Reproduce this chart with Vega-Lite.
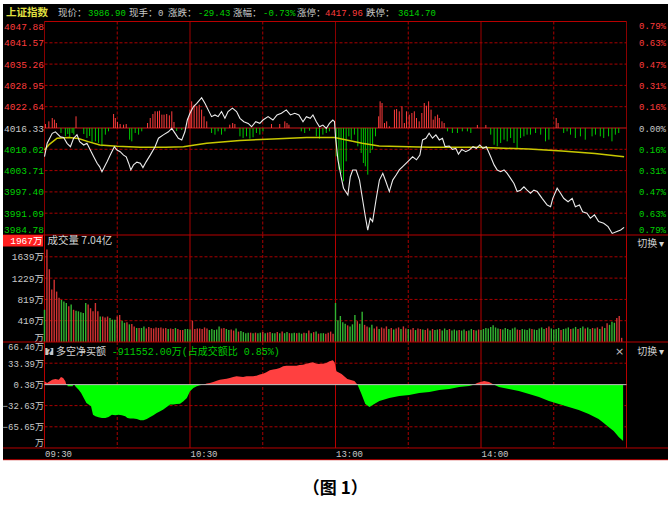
{
"$schema": "https://vega.github.io/schema/vega-lite/v6.json",
"background": "white",
"padding": {"left": 2, "top": 4, "right": 2, "bottom": 0},
"spacing": 0,
"bounds": "flush",
"resolve": {"scale": {"color": "independent"}},
"title": {"text": "（图 1）", "orient": "bottom", "anchor": "middle", "offset": 21, "fontSize": 17, "font": "Noto Sans CJK SC", "fontWeight": "bold", "color": "#000000"},
"config": {"view": {"fill": "#000000", "stroke": null}, "axis": {"labelColor": "#c8c8c8", "labelFont": "Liberation Mono, Noto Sans CJK SC", "labelFontSize": 9.5}},
"datasets": {
"priceLine": [{"t":0,"p":4007.83},{"t":1.1,"p":4011.8},{"t":3.2,"p":4014.76},{"t":4.5,"p":4015.2},{"t":6.6,"p":4013.7},{"t":7.9,"p":4013.5},{"t":9.3,"p":4011.8},{"t":10.7,"p":4010.8},{"t":12,"p":4013.3},{"t":13.4,"p":4014.3},{"t":14.5,"p":4012.3},{"t":16.2,"p":4011.3},{"t":17.5,"p":4011.8},{"t":18.9,"p":4009.8},{"t":20.3,"p":4007.8},{"t":21.7,"p":4005.9},{"t":22.7,"p":4004.9},{"t":23.7,"p":4003.4},{"t":25.1,"p":4005.4},{"t":25.8,"p":4006.3},{"t":27.1,"p":4008.3},{"t":28.8,"p":4010.8},{"t":29.9,"p":4009.8},{"t":31.2,"p":4009.3},{"t":32.6,"p":4008.3},{"t":33.7,"p":4007.8},{"t":34.7,"p":4005.9},{"t":35.6,"p":4003.9},{"t":36.7,"p":4005.4},{"t":38.1,"p":4006.2},{"t":39.5,"p":4005.9},{"t":40.6,"p":4004.6},{"t":41.9,"p":4006.3},{"t":43.6,"p":4008.3},{"t":45.6,"p":4010.8},{"t":47,"p":4013.3},{"t":49,"p":4014.3},{"t":51.1,"p":4015.2},{"t":52.5,"p":4016.2},{"t":53.8,"p":4014.8},{"t":55.2,"p":4013.3},{"t":56.6,"p":4012.8},{"t":57.9,"p":4015.2},{"t":58.9,"p":4018.7},{"t":60,"p":4020.7},{"t":61.4,"p":4022.6},{"t":62.8,"p":4023.6},{"t":64.8,"p":4025.3},{"t":66.2,"p":4023.6},{"t":67.5,"p":4021.7},{"t":68.9,"p":4019.7},{"t":70.3,"p":4020.2},{"t":71.6,"p":4019.7},{"t":73,"p":4021.2},{"t":74.4,"p":4019.2},{"t":75.7,"p":4021.2},{"t":77.5,"p":4022.2},{"t":79.2,"p":4021.2},{"t":80.6,"p":4019.2},{"t":82.2,"p":4018.2},{"t":84,"p":4017.7},{"t":85.4,"p":4016.7},{"t":87.1,"p":4018.2},{"t":88.8,"p":4017.7},{"t":90.1,"p":4018.7},{"t":92.2,"p":4019.7},{"t":94.2,"p":4018.7},{"t":95.9,"p":4020.2},{"t":97.7,"p":4020.7},{"t":99.7,"p":4021.7},{"t":101.4,"p":4020.2},{"t":103.2,"p":4020.7},{"t":104.9,"p":4020.2},{"t":106.6,"p":4018.2},{"t":108,"p":4019.7},{"t":109.6,"p":4019.2},{"t":110.7,"p":4020.2},{"t":112.1,"p":4018.2},{"t":113.4,"p":4016.7},{"t":114.8,"p":4017.2},{"t":116.2,"p":4016.2},{"t":117.5,"p":4017.7},{"t":118.9,"p":4018.7},{"t":119.6,"p":4018.2},{"t":120,"p":4013.7},{"t":121,"p":4006.9},{"t":122.3,"p":4001.9},{"t":123.3,"p":3998.5},{"t":125.1,"p":3996.5},{"t":126.1,"p":4001.9},{"t":127.1,"p":4003.9},{"t":128.5,"p":4003.9},{"t":129.9,"p":4000.9},{"t":131.2,"p":3995.0},{"t":132.3,"p":3990.1},{"t":133.3,"p":3986.1},{"t":134.3,"p":3989.6},{"t":135.3,"p":3988.6},{"t":136.7,"p":3995.0},{"t":138.1,"p":4000.9},{"t":139.5,"p":4002.9},{"t":140.8,"p":4000.4},{"t":142.2,"p":3997.5},{"t":143.6,"p":4000.9},{"t":145,"p":4002.4},{"t":146.3,"p":4003.9},{"t":147.7,"p":4004.9},{"t":149.7,"p":4006.3},{"t":151.8,"p":4007.8},{"t":153.4,"p":4006.9},{"t":154.8,"p":4008.3},{"t":155.9,"p":4012.8},{"t":157.3,"p":4013.3},{"t":158.6,"p":4014.8},{"t":160,"p":4013.3},{"t":161.4,"p":4014.3},{"t":162.8,"p":4012.8},{"t":164.1,"p":4013.3},{"t":165.2,"p":4010.8},{"t":166.9,"p":4011.0},{"t":168.2,"p":4010.0},{"t":169.6,"p":4010.3},{"t":170.7,"p":4008.6},{"t":172.1,"p":4010.0},{"t":173.7,"p":4009.3},{"t":175.1,"p":4009.8},{"t":176.7,"p":4010.8},{"t":178.1,"p":4010.3},{"t":179.5,"p":4011.3},{"t":180.8,"p":4010.3},{"t":182.2,"p":4010.8},{"t":184,"p":4007.8},{"t":185.4,"p":4005.4},{"t":186.7,"p":4003.9},{"t":188.1,"p":4003.4},{"t":189.5,"p":4003.9},{"t":190.8,"p":4002.9},{"t":192.2,"p":4001.4},{"t":193.6,"p":3999.9},{"t":194.9,"p":3997.5},{"t":196.3,"p":3997.9},{"t":197.7,"p":3998.9},{"t":199,"p":3997.9},{"t":200.4,"p":3997.0},{"t":201.8,"p":3997.9},{"t":203.2,"p":3997.5},{"t":205.2,"p":3995.5},{"t":207.3,"p":3993.5},{"t":208.7,"p":3993.0},{"t":209.6,"p":3995.5},{"t":211.4,"p":3998.5},{"t":212.8,"p":3997.0},{"t":214.1,"p":3995.5},{"t":215.9,"p":3994.5},{"t":217.6,"p":3995.5},{"t":218.9,"p":3993.0},{"t":220.6,"p":3993.5},{"t":221.9,"p":3991.5},{"t":223.7,"p":3991.1},{"t":225.1,"p":3989.6},{"t":226.8,"p":3990.6},{"t":228.5,"p":3988.6},{"t":230.6,"p":3988.1},{"t":232.4,"p":3987.1},{"t":234.1,"p":3985.1},{"t":235.8,"p":3985.6},{"t":237.6,"p":3986.1},{"t":239,"p":3986.9}],
"avgLine": [{"t":0,"a":4009.8},{"t":2,"a":4011.5},{"t":5.2,"a":4013.3},{"t":10,"a":4013.5},{"t":14,"a":4013.2},{"t":18,"a":4012.3},{"t":22.8,"a":4011.3},{"t":30,"a":4010.9},{"t":39.5,"a":4010.6},{"t":50,"a":4010.6},{"t":57.3,"a":4010.8},{"t":62,"a":4011.3},{"t":66.9,"a":4011.8},{"t":80.6,"a":4012.6},{"t":94.2,"a":4013.1},{"t":108,"a":4013.5},{"t":119.6,"a":4013.5},{"t":131,"a":4011.8},{"t":138,"a":4011.0},{"t":158.6,"a":4010.6},{"t":179,"a":4010.6},{"t":199.7,"a":4010.1},{"t":213.4,"a":4009.5},{"t":227,"a":4008.8},{"t":239,"a":4007.8}],
"bars": [{"t":0.4,"p":4017.51},{"t":1.8,"p":4018.3},{"t":3.2,"p":4019.29},{"t":4.1,"p":4018.8},{"t":4.9,"p":4017.81},{"t":6.8,"p":4014.85},{"t":8.6,"p":4013.86},{"t":9.6,"p":4014.55},{"t":10.4,"p":4013.37},{"t":11.4,"p":4014.85},{"t":12.1,"p":4014.36},{"t":13,"p":4019.79},{"t":16.2,"p":4014.55},{"t":17.5,"p":4013.37},{"t":18.6,"p":4013.96},{"t":19.6,"p":4011.89},{"t":21,"p":4012.38},{"t":22.3,"p":4011.89},{"t":23.7,"p":4010.9},{"t":25.1,"p":4014.36},{"t":26.4,"p":4015.34},{"t":28.5,"p":4020.48},{"t":29.2,"p":4019.29},{"t":30.1,"p":4018.11},{"t":31.2,"p":4017.51},{"t":32.6,"p":4017.32},{"t":33.7,"p":4017.51},{"t":35.1,"p":4012.87},{"t":36,"p":4012.38},{"t":37.4,"p":4014.85},{"t":38.8,"p":4014.36},{"t":40.1,"p":4015.34},{"t":42.5,"p":4017.81},{"t":43.6,"p":4019.29},{"t":44.7,"p":4020.48},{"t":45.6,"p":4021.27},{"t":46.6,"p":4021.27},{"t":47.4,"p":4021.46},{"t":48.4,"p":4020.28},{"t":49.3,"p":4020.28},{"t":50.4,"p":4020.48},{"t":51.5,"p":4020.08},{"t":52.5,"p":4021.27},{"t":53.4,"p":4018.11},{"t":54.5,"p":4015.43},{"t":56.6,"p":4015.73},{"t":59.3,"p":4019.29},{"t":60,"p":4021.76},{"t":60.7,"p":4024.23},{"t":61.7,"p":4023.24},{"t":62.8,"p":4022.75},{"t":63.8,"p":4023.24},{"t":64.8,"p":4021.76},{"t":65.8,"p":4019.79},{"t":66.9,"p":4018.3},{"t":68.9,"p":4014.85},{"t":70.3,"p":4014.36},{"t":71.6,"p":4015.34},{"t":73,"p":4014.36},{"t":74.4,"p":4015.34},{"t":76.4,"p":4017.32},{"t":77.6,"p":4017.81},{"t":78.5,"p":4017.51},{"t":80.6,"p":4013.86},{"t":81.9,"p":4013.37},{"t":83.3,"p":4013.86},{"t":84.7,"p":4013.17},{"t":86,"p":4013.57},{"t":87.4,"p":4014.85},{"t":88.8,"p":4014.36},{"t":90.1,"p":4015.34},{"t":93.6,"p":4017.51},{"t":97,"p":4017.51},{"t":99.1,"p":4018.3},{"t":100,"p":4017.81},{"t":100.8,"p":4017.32},{"t":105.9,"p":4015.34},{"t":107.3,"p":4014.85},{"t":109.3,"p":4015.53},{"t":112.1,"p":4013.86},{"t":113.4,"p":4013.17},{"t":114.8,"p":4014.36},{"t":116.2,"p":4014.85},{"t":117.5,"p":4015.34},{"t":120.3,"p":4007.94},{"t":121.4,"p":4003.99},{"t":122.3,"p":4003.0},{"t":123.3,"p":4000.53},{"t":124.4,"p":4006.46},{"t":125.5,"p":4013.86},{"t":126.5,"p":4012.87},{"t":127.8,"p":4014.36},{"t":129.2,"p":4010.9},{"t":130.6,"p":4008.93},{"t":131.5,"p":4005.96},{"t":132.3,"p":4004.98},{"t":133.3,"p":4002.51},{"t":134.3,"p":4008.93},{"t":135.3,"p":4009.91},{"t":136.5,"p":4013.86},{"t":137.8,"p":4019.79},{"t":138.4,"p":4024.23},{"t":139.2,"p":4023.73},{"t":140.2,"p":4017.81},{"t":141.1,"p":4018.3},{"t":142.2,"p":4016.83},{"t":144.3,"p":4021.76},{"t":145.2,"p":4021.96},{"t":146.3,"p":4021.27},{"t":147.4,"p":4022.75},{"t":148.4,"p":4017.81},{"t":149.3,"p":4021.27},{"t":150.4,"p":4020.28},{"t":151.5,"p":4020.77},{"t":152.5,"p":4021.27},{"t":153.4,"p":4019.29},{"t":154.5,"p":4018.3},{"t":155.6,"p":4020.77},{"t":156.6,"p":4023.73},{"t":157.5,"p":4022.94},{"t":158.4,"p":4024.23},{"t":159.4,"p":4021.76},{"t":160.3,"p":4018.8},{"t":161.1,"p":4019.79},{"t":162.1,"p":4020.28},{"t":162.8,"p":4019.29},{"t":163.9,"p":4018.3},{"t":164.8,"p":4017.81},{"t":166.2,"p":4015.34},{"t":168.2,"p":4014.85},{"t":170.3,"p":4014.85},{"t":172.3,"p":4015.34},{"t":174.4,"p":4015.34},{"t":175.8,"p":4014.85},{"t":178.5,"p":4017.23},{"t":182,"p":4017.23},{"t":184,"p":4014.36},{"t":185.4,"p":4011.39},{"t":186.7,"p":4010.9},{"t":188.1,"p":4011.89},{"t":189.5,"p":4012.87},{"t":190.8,"p":4012.38},{"t":192.2,"p":4013.37},{"t":193.6,"p":4011.89},{"t":194.9,"p":4010.41},{"t":196.3,"p":4013.37},{"t":197.7,"p":4013.86},{"t":199,"p":4014.36},{"t":200.4,"p":4014.36},{"t":202.5,"p":4014.85},{"t":204.6,"p":4014.36},{"t":206.6,"p":4012.38},{"t":208,"p":4012.87},{"t":211,"p":4019.29},{"t":211.8,"p":4017.81},{"t":214.1,"p":4014.85},{"t":215.5,"p":4015.34},{"t":216.9,"p":4014.36},{"t":218.9,"p":4013.37},{"t":221,"p":4013.86},{"t":223,"p":4012.87},{"t":225.8,"p":4013.86},{"t":227.2,"p":4014.36},{"t":229.2,"p":4013.86},{"t":230.6,"p":4013.37},{"t":232.6,"p":4013.86},{"t":234,"p":4012.38},{"t":235.4,"p":4014.36},{"t":236.8,"p":4014.85}],
"vol": [{"t":0,"v":620,"d":"down"},{"t":1,"v":1780,"d":"up"},{"t":2,"v":1400,"d":"up"},{"t":3,"v":1010,"d":"up"},{"t":4,"v":1200,"d":"up"},{"t":5,"v":970,"d":"up"},{"t":6,"v":850,"d":"up"},{"t":7,"v":810,"d":"down"},{"t":8,"v":780,"d":"down"},{"t":9,"v":750,"d":"down"},{"t":10,"v":690,"d":"up"},{"t":11,"v":720,"d":"down"},{"t":12,"v":620,"d":"up"},{"t":13,"v":600,"d":"down"},{"t":14,"v":590,"d":"down"},{"t":15,"v":570,"d":"down"},{"t":16,"v":560,"d":"down"},{"t":17,"v":750,"d":"down"},{"t":18,"v":720,"d":"up"},{"t":19,"v":650,"d":"up"},{"t":20,"v":590,"d":"up"},{"t":21,"v":750,"d":"up"},{"t":22,"v":590,"d":"up"},{"t":23,"v":490,"d":"down"},{"t":24,"v":490,"d":"up"},{"t":25,"v":470,"d":"up"},{"t":26,"v":490,"d":"up"},{"t":27,"v":460,"d":"down"},{"t":28,"v":430,"d":"down"},{"t":29,"v":430,"d":"down"},{"t":30,"v":490,"d":"up"},{"t":31,"v":520,"d":"up"},{"t":32,"v":410,"d":"down"},{"t":33,"v":370,"d":"down"},{"t":34,"v":380,"d":"up"},{"t":35,"v":340,"d":"down"},{"t":36,"v":345,"d":"up"},{"t":37,"v":300,"d":"up"},{"t":38,"v":270,"d":"down"},{"t":39,"v":270,"d":"up"},{"t":40,"v":270,"d":"down"},{"t":41,"v":300,"d":"down"},{"t":42,"v":260,"d":"up"},{"t":43,"v":290,"d":"up"},{"t":44,"v":270,"d":"up"},{"t":45,"v":260,"d":"up"},{"t":46,"v":280,"d":"up"},{"t":47,"v":270,"d":"up"},{"t":48,"v":280,"d":"up"},{"t":49,"v":260,"d":"up"},{"t":50,"v":270,"d":"up"},{"t":51,"v":250,"d":"down"},{"t":52,"v":260,"d":"up"},{"t":53,"v":250,"d":"up"},{"t":54,"v":270,"d":"down"},{"t":55,"v":250,"d":"up"},{"t":56,"v":230,"d":"up"},{"t":57,"v":230,"d":"up"},{"t":58,"v":250,"d":"down"},{"t":59,"v":250,"d":"down"},{"t":60,"v":240,"d":"down"},{"t":61,"v":410,"d":"up"},{"t":62,"v":250,"d":"up"},{"t":63,"v":260,"d":"up"},{"t":64,"v":260,"d":"up"},{"t":65,"v":250,"d":"up"},{"t":66,"v":280,"d":"up"},{"t":67,"v":260,"d":"up"},{"t":68,"v":230,"d":"down"},{"t":69,"v":250,"d":"down"},{"t":70,"v":230,"d":"down"},{"t":71,"v":240,"d":"down"},{"t":72,"v":300,"d":"down"},{"t":73,"v":260,"d":"up"},{"t":74,"v":270,"d":"up"},{"t":75,"v":250,"d":"down"},{"t":76,"v":230,"d":"down"},{"t":77,"v":240,"d":"up"},{"t":78,"v":220,"d":"up"},{"t":79,"v":260,"d":"down"},{"t":80,"v":200,"d":"up"},{"t":81,"v":210,"d":"down"},{"t":82,"v":190,"d":"down"},{"t":83,"v":170,"d":"down"},{"t":84,"v":180,"d":"down"},{"t":85,"v":180,"d":"up"},{"t":86,"v":170,"d":"down"},{"t":87,"v":180,"d":"up"},{"t":88,"v":170,"d":"down"},{"t":89,"v":180,"d":"down"},{"t":90,"v":190,"d":"up"},{"t":91,"v":170,"d":"down"},{"t":92,"v":180,"d":"up"},{"t":93,"v":190,"d":"up"},{"t":94,"v":170,"d":"down"},{"t":95,"v":170,"d":"down"},{"t":96,"v":190,"d":"up"},{"t":97,"v":170,"d":"down"},{"t":98,"v":200,"d":"up"},{"t":99,"v":170,"d":"down"},{"t":100,"v":190,"d":"down"},{"t":101,"v":170,"d":"up"},{"t":102,"v":170,"d":"down"},{"t":103,"v":180,"d":"down"},{"t":104,"v":170,"d":"up"},{"t":105,"v":180,"d":"down"},{"t":106,"v":160,"d":"down"},{"t":107,"v":180,"d":"up"},{"t":108,"v":170,"d":"down"},{"t":109,"v":220,"d":"up"},{"t":110,"v":170,"d":"down"},{"t":111,"v":190,"d":"up"},{"t":112,"v":200,"d":"down"},{"t":113,"v":160,"d":"up"},{"t":114,"v":170,"d":"down"},{"t":115,"v":170,"d":"down"},{"t":116,"v":160,"d":"up"},{"t":117,"v":180,"d":"up"},{"t":118,"v":200,"d":"up"},{"t":119,"v":160,"d":"up"},{"t":120,"v":750,"d":"down"},{"t":121,"v":420,"d":"down"},{"t":122,"v":500,"d":"down"},{"t":123,"v":380,"d":"down"},{"t":124,"v":350,"d":"down"},{"t":125,"v":320,"d":"up"},{"t":126,"v":300,"d":"down"},{"t":127,"v":340,"d":"down"},{"t":128,"v":520,"d":"down"},{"t":129,"v":400,"d":"up"},{"t":130,"v":350,"d":"down"},{"t":131,"v":580,"d":"down"},{"t":132,"v":330,"d":"up"},{"t":133,"v":300,"d":"up"},{"t":134,"v":280,"d":"down"},{"t":135,"v":330,"d":"down"},{"t":136,"v":260,"d":"up"},{"t":137,"v":300,"d":"up"},{"t":138,"v":250,"d":"down"},{"t":139,"v":280,"d":"up"},{"t":140,"v":260,"d":"up"},{"t":141,"v":300,"d":"up"},{"t":142,"v":250,"d":"down"},{"t":143,"v":270,"d":"up"},{"t":144,"v":240,"d":"down"},{"t":145,"v":260,"d":"up"},{"t":146,"v":280,"d":"up"},{"t":147,"v":250,"d":"down"},{"t":148,"v":300,"d":"up"},{"t":149,"v":260,"d":"up"},{"t":150,"v":250,"d":"down"},{"t":151,"v":240,"d":"up"},{"t":152,"v":270,"d":"up"},{"t":153,"v":230,"d":"down"},{"t":154,"v":260,"d":"up"},{"t":155,"v":250,"d":"up"},{"t":156,"v":240,"d":"down"},{"t":157,"v":230,"d":"up"},{"t":158,"v":260,"d":"up"},{"t":159,"v":220,"d":"down"},{"t":160,"v":250,"d":"up"},{"t":161,"v":230,"d":"down"},{"t":162,"v":240,"d":"down"},{"t":163,"v":250,"d":"up"},{"t":164,"v":220,"d":"down"},{"t":165,"v":260,"d":"down"},{"t":166,"v":230,"d":"down"},{"t":167,"v":250,"d":"up"},{"t":168,"v":220,"d":"down"},{"t":169,"v":240,"d":"down"},{"t":170,"v":220,"d":"down"},{"t":171,"v":230,"d":"up"},{"t":172,"v":220,"d":"down"},{"t":173,"v":240,"d":"down"},{"t":174,"v":210,"d":"up"},{"t":175,"v":220,"d":"down"},{"t":176,"v":250,"d":"down"},{"t":177,"v":230,"d":"up"},{"t":178,"v":220,"d":"down"},{"t":179,"v":240,"d":"up"},{"t":180,"v":230,"d":"down"},{"t":181,"v":250,"d":"down"},{"t":182,"v":270,"d":"down"},{"t":183,"v":260,"d":"down"},{"t":184,"v":290,"d":"down"},{"t":185,"v":320,"d":"down"},{"t":186,"v":280,"d":"down"},{"t":187,"v":260,"d":"down"},{"t":188,"v":250,"d":"up"},{"t":189,"v":240,"d":"down"},{"t":190,"v":270,"d":"down"},{"t":191,"v":250,"d":"down"},{"t":192,"v":230,"d":"down"},{"t":193,"v":260,"d":"down"},{"t":194,"v":280,"d":"down"},{"t":195,"v":240,"d":"up"},{"t":196,"v":230,"d":"up"},{"t":197,"v":250,"d":"down"},{"t":198,"v":240,"d":"down"},{"t":199,"v":230,"d":"down"},{"t":200,"v":260,"d":"down"},{"t":201,"v":250,"d":"up"},{"t":202,"v":240,"d":"down"},{"t":203,"v":230,"d":"down"},{"t":204,"v":260,"d":"down"},{"t":205,"v":280,"d":"down"},{"t":206,"v":250,"d":"down"},{"t":207,"v":270,"d":"up"},{"t":208,"v":300,"d":"up"},{"t":209,"v":260,"d":"down"},{"t":210,"v":240,"d":"down"},{"t":211,"v":250,"d":"down"},{"t":212,"v":270,"d":"down"},{"t":213,"v":230,"d":"up"},{"t":214,"v":250,"d":"down"},{"t":215,"v":260,"d":"down"},{"t":216,"v":280,"d":"down"},{"t":217,"v":250,"d":"up"},{"t":218,"v":260,"d":"down"},{"t":219,"v":290,"d":"down"},{"t":220,"v":250,"d":"up"},{"t":221,"v":270,"d":"down"},{"t":222,"v":300,"d":"down"},{"t":223,"v":260,"d":"up"},{"t":224,"v":280,"d":"down"},{"t":225,"v":250,"d":"down"},{"t":226,"v":270,"d":"up"},{"t":227,"v":260,"d":"down"},{"t":228,"v":280,"d":"up"},{"t":229,"v":250,"d":"down"},{"t":230,"v":300,"d":"up"},{"t":231,"v":270,"d":"down"},{"t":232,"v":360,"d":"up"},{"t":233,"v":330,"d":"down"},{"t":234,"v":390,"d":"down"},{"t":235,"v":370,"d":"down"},{"t":236,"v":460,"d":"up"},{"t":237,"v":500,"d":"up"},{"t":238,"v":80,"d":"up"}],
"netbuy": [{"t":0,"v":5.2,"seg":1,"d":"up"},{"t":1.1,"v":2.6,"seg":1,"d":"up"},{"t":2.2,"v":5.2,"seg":1,"d":"up"},{"t":3.2,"v":7.8,"seg":1,"d":"up"},{"t":4.5,"v":8.8,"seg":1,"d":"up"},{"t":5.9,"v":7.8,"seg":1,"d":"up"},{"t":6.8,"v":11.9,"seg":1,"d":"up"},{"t":7.7,"v":10.4,"seg":1,"d":"up"},{"t":8.6,"v":5.2,"seg":1,"d":"up"},{"t":9,"v":0,"seg":1,"d":"up"},
{"t":9.4,"v":0,"seg":2,"d":"down"},{"t":9.6,"v":-2.6,"seg":2,"d":"down"},{"t":11.6,"v":-2.6,"seg":2,"d":"down"},{"t":11.8,"v":0,"seg":2,"d":"down"},
{"t":12.4,"v":0,"seg":3,"d":"down"},{"t":12.7,"v":-2.6,"seg":3,"d":"down"},{"t":14.1,"v":-7.8,"seg":3,"d":"down"},{"t":15.1,"v":-13,"seg":3,"d":"down"},{"t":16.2,"v":-20.8,"seg":3,"d":"down"},{"t":17.3,"v":-28.5,"seg":3,"d":"down"},{"t":18.2,"v":-31.1,"seg":3,"d":"down"},{"t":19.2,"v":-33.7,"seg":3,"d":"down"},{"t":20,"v":-46.7,"seg":3,"d":"down"},{"t":21,"v":-49.3,"seg":3,"d":"down"},{"t":22.3,"v":-50.9,"seg":3,"d":"down"},{"t":23.7,"v":-51.9,"seg":3,"d":"down"},{"t":25.1,"v":-51.9,"seg":3,"d":"down"},{"t":26.4,"v":-50.3,"seg":3,"d":"down"},{"t":27.8,"v":-46.7,"seg":3,"d":"down"},{"t":29.2,"v":-47.7,"seg":3,"d":"down"},{"t":30.5,"v":-46.7,"seg":3,"d":"down"},{"t":31.9,"v":-47.7,"seg":3,"d":"down"},{"t":33.3,"v":-49.3,"seg":3,"d":"down"},{"t":34.2,"v":-51.9,"seg":3,"d":"down"},{"t":35.3,"v":-52.9,"seg":3,"d":"down"},{"t":36.7,"v":-52.9,"seg":3,"d":"down"},{"t":38.1,"v":-53.5,"seg":3,"d":"down"},{"t":39.5,"v":-55.5,"seg":3,"d":"down"},{"t":40.8,"v":-55.5,"seg":3,"d":"down"},{"t":42.2,"v":-53.5,"seg":3,"d":"down"},{"t":43.6,"v":-50.3,"seg":3,"d":"down"},{"t":44.9,"v":-47.7,"seg":3,"d":"down"},{"t":46.3,"v":-44.1,"seg":3,"d":"down"},{"t":47.7,"v":-41.5,"seg":3,"d":"down"},{"t":49,"v":-38.9,"seg":3,"d":"down"},{"t":50.4,"v":-34.8,"seg":3,"d":"down"},{"t":51.8,"v":-31.1,"seg":3,"d":"down"},{"t":53.1,"v":-31.1,"seg":3,"d":"down"},{"t":54.5,"v":-30.1,"seg":3,"d":"down"},{"t":55.9,"v":-29.6,"seg":3,"d":"down"},{"t":57.3,"v":-26,"seg":3,"d":"down"},{"t":58.7,"v":-20.8,"seg":3,"d":"down"},{"t":60,"v":-10.4,"seg":3,"d":"down"},{"t":61.4,"v":-5.2,"seg":3,"d":"down"},{"t":62.8,"v":-2.6,"seg":3,"d":"down"},{"t":64.1,"v":-1,"seg":3,"d":"down"},{"t":65.5,"v":0,"seg":3,"d":"down"},
{"t":65.5,"v":0,"seg":4,"d":"up"},{"t":66.9,"v":1.6,"seg":4,"d":"up"},{"t":68.2,"v":2.6,"seg":4,"d":"up"},{"t":69.6,"v":4.2,"seg":4,"d":"up"},{"t":71,"v":6.2,"seg":4,"d":"up"},{"t":72.3,"v":7.8,"seg":4,"d":"up"},{"t":75.1,"v":9.3,"seg":4,"d":"up"},{"t":76.4,"v":10.4,"seg":4,"d":"up"},{"t":77.8,"v":11.9,"seg":4,"d":"up"},{"t":79.2,"v":13,"seg":4,"d":"up"},{"t":81.9,"v":11.9,"seg":4,"d":"up"},{"t":83.3,"v":13,"seg":4,"d":"up"},{"t":86,"v":13,"seg":4,"d":"up"},{"t":87.4,"v":14,"seg":4,"d":"up"},{"t":88.8,"v":15.6,"seg":4,"d":"up"},{"t":90.1,"v":17.1,"seg":4,"d":"up"},{"t":91.5,"v":19.2,"seg":4,"d":"up"},{"t":92.9,"v":22.3,"seg":4,"d":"up"},{"t":94.3,"v":23.4,"seg":4,"d":"up"},{"t":95.6,"v":24.4,"seg":4,"d":"up"},{"t":97,"v":26,"seg":4,"d":"up"},{"t":98.4,"v":28.5,"seg":4,"d":"up"},{"t":99.8,"v":29.6,"seg":4,"d":"up"},{"t":103.9,"v":29.6,"seg":4,"d":"up"},{"t":105.2,"v":30.6,"seg":4,"d":"up"},{"t":106.6,"v":31.1,"seg":4,"d":"up"},{"t":108,"v":32.7,"seg":4,"d":"up"},{"t":109.3,"v":33.7,"seg":4,"d":"up"},{"t":110.7,"v":34.8,"seg":4,"d":"up"},{"t":112.1,"v":32.7,"seg":4,"d":"up"},{"t":113.4,"v":32.2,"seg":4,"d":"up"},{"t":114.8,"v":32.7,"seg":4,"d":"up"},{"t":116.2,"v":33.7,"seg":4,"d":"up"},{"t":117.5,"v":36.3,"seg":4,"d":"up"},{"t":118.9,"v":37.9,"seg":4,"d":"up"},{"t":119.6,"v":34.8,"seg":4,"d":"up"},{"t":120.4,"v":21,"seg":4,"d":"up"},{"t":122.5,"v":16.7,"seg":4,"d":"up"},{"t":124.9,"v":8.9,"seg":4,"d":"up"},{"t":127.8,"v":5.8,"seg":4,"d":"up"},{"t":129.1,"v":0,"seg":4,"d":"up"},
{"t":129.1,"v":0,"seg":5,"d":"down"},{"t":130.7,"v":-14.5,"seg":5,"d":"down"},{"t":132.3,"v":-30,"seg":5,"d":"down"},{"t":134,"v":-34.7,"seg":5,"d":"down"},{"t":136,"v":-30,"seg":5,"d":"down"},{"t":138.1,"v":-25.4,"seg":5,"d":"down"},{"t":142.2,"v":-20.7,"seg":5,"d":"down"},{"t":146.3,"v":-17.6,"seg":5,"d":"down"},{"t":150.4,"v":-16,"seg":5,"d":"down"},{"t":154.5,"v":-12.9,"seg":5,"d":"down"},{"t":158.7,"v":-11.4,"seg":5,"d":"down"},{"t":162.8,"v":-8.3,"seg":5,"d":"down"},{"t":166.9,"v":-6.7,"seg":5,"d":"down"},{"t":171,"v":-3.6,"seg":5,"d":"down"},{"t":175.1,"v":-2,"seg":5,"d":"down"},{"t":177,"v":0,"seg":5,"d":"down"},
{"t":177,"v":0,"seg":6,"d":"up"},{"t":178.4,"v":2.6,"seg":6,"d":"up"},{"t":181.3,"v":5.8,"seg":6,"d":"up"},{"t":183.3,"v":4.2,"seg":6,"d":"up"},{"t":185.4,"v":0,"seg":6,"d":"up"},
{"t":185.4,"v":0,"seg":7,"d":"down"},{"t":187.4,"v":-3.6,"seg":7,"d":"down"},{"t":191.5,"v":-6.7,"seg":7,"d":"down"},{"t":195.6,"v":-9.8,"seg":7,"d":"down"},{"t":199.8,"v":-14.5,"seg":7,"d":"down"},{"t":203.9,"v":-19.2,"seg":7,"d":"down"},{"t":208,"v":-25.4,"seg":7,"d":"down"},{"t":212.1,"v":-30,"seg":7,"d":"down"},{"t":216.2,"v":-34.7,"seg":7,"d":"down"},{"t":220.3,"v":-39.4,"seg":7,"d":"down"},{"t":224.4,"v":-45.6,"seg":7,"d":"down"},{"t":228.5,"v":-53.4,"seg":7,"d":"down"},{"t":230.6,"v":-59.6,"seg":7,"d":"down"},{"t":232.6,"v":-65.9,"seg":7,"d":"down"},{"t":234.7,"v":-72.1,"seg":7,"d":"down"},{"t":236.8,"v":-81.4,"seg":7,"d":"down"},{"t":238.6,"v":-87.6,"seg":7,"d":"down"}],
"gridPrice": [{"p":4041.57},{"p":4035.26},{"p":4028.95},{"p":4022.64},{"p":4010.02},{"p":4003.71},{"p":3997.40},{"p":3991.09}],
"gridVol": [{"v":410},{"v":819},{"v":1229},{"v":1639}],
"gridNet": [{"v":33.39},{"v":-32.63},{"v":-65.65}],
"gridTime": [{"t":0},{"t":30},{"t":60},{"t":90},{"t":120},{"t":150},{"t":180},{"t":210},{"t":240}]
},
"vconcat": [
{
"width": 665, "height": 17,
"data": {"values": [{}]},
"layer": [
{"mark": {"type": "text", "text": "上证指数", "align": "left", "baseline": "middle", "fontSize": 10.5, "fontWeight": "bold", "font": "Noto Sans CJK SC", "color": "#e0e040"},
 "encoding": {"x": {"datum": -15.88, "type": "quantitative", "scale": {"domain": [-17.11, 257.11], "nice": false, "zero": false}, "axis": null}}},
{"mark": {"type": "text", "text": "现价：", "align": "left", "baseline": "middle", "fontSize": 9.5, "font": "Noto Sans CJK SC", "color": "#c8c8c8"},
 "encoding": {"x": {"datum": 5.57, "type": "quantitative", "scale": {"domain": [-17.11, 257.11], "nice": false, "zero": false}, "axis": null}}},
{"mark": {"type": "text", "text": "3986.90", "align": "left", "baseline": "middle", "fontSize": 9, "font": "Liberation Mono", "color": "#00d200"},
 "encoding": {"x": {"datum": 17.94, "type": "quantitative", "scale": {"domain": [-17.11, 257.11], "nice": false, "zero": false}, "axis": null}}},
{"mark": {"type": "text", "text": "现手：", "align": "left", "baseline": "middle", "fontSize": 9.5, "font": "Noto Sans CJK SC", "color": "#c8c8c8"},
 "encoding": {"x": {"datum": 34.85, "type": "quantitative", "scale": {"domain": [-17.11, 257.11], "nice": false, "zero": false}, "axis": null}}},
{"mark": {"type": "text", "text": "0", "align": "left", "baseline": "middle", "fontSize": 9, "font": "Liberation Mono", "color": "#c8c8c8"},
 "encoding": {"x": {"datum": 46.8, "type": "quantitative", "scale": {"domain": [-17.11, 257.11], "nice": false, "zero": false}, "axis": null}}},
{"mark": {"type": "text", "text": "涨跌：", "align": "left", "baseline": "middle", "fontSize": 9.5, "font": "Noto Sans CJK SC", "color": "#c8c8c8"},
 "encoding": {"x": {"datum": 50.93, "type": "quantitative", "scale": {"domain": [-17.11, 257.11], "nice": false, "zero": false}, "axis": null}}},
{"mark": {"type": "text", "text": "-29.43", "align": "left", "baseline": "middle", "fontSize": 9, "font": "Liberation Mono", "color": "#00d200"},
 "encoding": {"x": {"datum": 63.3, "type": "quantitative", "scale": {"domain": [-17.11, 257.11], "nice": false, "zero": false}, "axis": null}}},
{"mark": {"type": "text", "text": "涨幅：", "align": "left", "baseline": "middle", "fontSize": 9.5, "font": "Noto Sans CJK SC", "color": "#c8c8c8"},
 "encoding": {"x": {"datum": 77.73, "type": "quantitative", "scale": {"domain": [-17.11, 257.11], "nice": false, "zero": false}, "axis": null}}},
{"mark": {"type": "text", "text": "-0.73%", "align": "left", "baseline": "middle", "fontSize": 9, "font": "Liberation Mono", "color": "#00d200"},
 "encoding": {"x": {"datum": 90.1, "type": "quantitative", "scale": {"domain": [-17.11, 257.11], "nice": false, "zero": false}, "axis": null}}},
{"mark": {"type": "text", "text": "涨停：", "align": "left", "baseline": "middle", "fontSize": 9.5, "font": "Noto Sans CJK SC", "color": "#c8c8c8"},
 "encoding": {"x": {"datum": 104.12, "type": "quantitative", "scale": {"domain": [-17.11, 257.11], "nice": false, "zero": false}, "axis": null}}},
{"mark": {"type": "text", "text": "4417.96", "align": "left", "baseline": "middle", "fontSize": 9, "font": "Liberation Mono", "color": "#ff3c3c"},
 "encoding": {"x": {"datum": 115.67, "type": "quantitative", "scale": {"domain": [-17.11, 257.11], "nice": false, "zero": false}, "axis": null}}},
{"mark": {"type": "text", "text": "跌停：", "align": "left", "baseline": "middle", "fontSize": 9.5, "font": "Noto Sans CJK SC", "color": "#c8c8c8"},
 "encoding": {"x": {"datum": 132.6, "type": "quantitative", "scale": {"domain": [-17.11, 257.11], "nice": false, "zero": false}, "axis": null}}},
{"mark": {"type": "text", "text": "3614.70", "align": "left", "baseline": "middle", "fontSize": 9, "font": "Liberation Mono", "color": "#00d200"},
 "encoding": {"x": {"datum": 145.8, "type": "quantitative", "scale": {"domain": [-17.11, 257.11], "nice": false, "zero": false}, "axis": null}}}
]
},
{
"width": 665, "height": 214,
"resolve": {"axis": {"x": "independent", "y": "independent"}},
"layer": [
{"data": {"name": "gridTime"},
 "mark": {"type": "rule", "strokeWidth": 1},
 "encoding": {
  "x": {"field": "t", "type": "quantitative", "scale": {"domain": [-17.11, 257.11], "nice": false, "zero": false}, "axis": null},
  "y": {"datum": 4047.88, "type": "quantitative", "scale": {"domain": [3984.63, 4048.03], "nice": false, "zero": false}, "axis": null},
  "y2": {"datum": 3984.63},
  "color": {"condition": {"test": "datum.t % 60 === 0", "value": "#b80000"}, "value": "#a80000"},
  "strokeDash": {"condition": {"test": "datum.t % 60 === 0", "value": [1, 0]}, "value": [3, 2]}}},
{"data": {"name": "gridPrice"},
 "mark": {"type": "rule", "color": "#a80000", "strokeDash": [3, 2], "strokeWidth": 1},
 "encoding": {
  "x": {"datum": 0, "type": "quantitative", "scale": {"domain": [-17.11, 257.11], "nice": false, "zero": false}, "axis": null},
  "x2": {"datum": 240},
  "y": {"field": "p", "type": "quantitative", "scale": {"domain": [3984.63, 4048.03], "nice": false, "zero": false}, "axis": null}}},
{"data": {"values": [{}]},
 "mark": {"type": "rule", "color": "#b80000", "strokeWidth": 1},
 "encoding": {
  "x": {"datum": 0, "type": "quantitative", "scale": {"domain": [-17.11, 257.11], "nice": false, "zero": false}, "axis": null},
  "x2": {"datum": 240},
  "y": {"datum": 4047.88, "type": "quantitative", "scale": {"domain": [3984.63, 4048.03], "nice": false, "zero": false}, "axis": null}}},
{"data": {"values": [{}]},
 "mark": {"type": "rule", "color": "#d01818", "strokeWidth": 1},
 "encoding": {
  "x": {"datum": 0, "type": "quantitative", "scale": {"domain": [-17.11, 257.11], "nice": false, "zero": false}, "axis": null},
  "x2": {"datum": 240},
  "y": {"datum": 4016.33, "type": "quantitative", "scale": {"domain": [3984.63, 4048.03], "nice": false, "zero": false}, "axis": null}}},
{"data": {"name": "bars"},
 "mark": {"type": "rule", "strokeWidth": 1},
 "encoding": {
  "x": {"field": "t", "type": "quantitative", "scale": {"domain": [-17.11, 257.11], "nice": false, "zero": false}, "axis": null},
  "y": {"field": "p", "type": "quantitative", "scale": {"domain": [3984.63, 4048.03], "nice": false, "zero": false}, "axis": null},
  "y2": {"datum": 4016.33},
  "color": {"condition": {"test": "datum.p >= 4016.33", "value": "#ff3c3c"}, "value": "#00c800"}}},
{"data": {"name": "avgLine"},
 "mark": {"type": "line", "color": "#c8c800", "strokeWidth": 1.5},
 "encoding": {
  "x": {"field": "t", "type": "quantitative", "scale": {"domain": [-17.11, 257.11], "nice": false, "zero": false}, "axis": null},
  "y": {"field": "a", "type": "quantitative", "scale": {"domain": [3984.63, 4048.03], "nice": false, "zero": false},
   "axis": {"orient": "right", "offset": -41.5, "values": [4047.88, 4041.57, 4035.26, 4028.95, 4022.64, 4016.33, 4010.02, 4003.71, 3997.4, 3991.09, 3984.78],
    "labelExpr": "format(abs(datum.value - 4016.33) / 4016.33 * 100, '.2f') + '%'",
    "title": null, "ticks": false, "domain": false, "grid": false, "labelPadding": 12, "labelFlush": true, "labelOverlap": false, "labelFontSize": 9,
    "labelColor": {"condition": [{"test": "datum.value > 4016.4", "value": "#ff3c3c"}, {"test": "datum.value < 4016.2", "value": "#00d200"}], "value": "#c8c8c8"}}}}},
{"data": {"name": "priceLine"},
 "mark": {"type": "line", "color": "#ececec", "strokeWidth": 1.1},
 "encoding": {
  "x": {"field": "t", "type": "quantitative", "scale": {"domain": [-17.11, 257.11], "nice": false, "zero": false}, "axis": null},
  "y": {"field": "p", "type": "quantitative", "scale": {"domain": [3984.63, 4048.03], "nice": false, "zero": false},
   "axis": {"orient": "left", "offset": -41.5, "values": [4047.88, 4041.57, 4035.26, 4028.95, 4022.64, 4016.33, 4010.02, 4003.71, 3997.4, 3991.09, 3984.78],
    "format": ".2f", "title": null, "ticks": false, "domain": false, "grid": false, "labelPadding": 1, "labelFlush": true, "labelOverlap": false, "labelFontSize": 9.5,
    "labelColor": {"condition": [{"test": "datum.value > 4016.4", "value": "#ff3c3c"}, {"test": "datum.value < 4016.2", "value": "#00d200"}], "value": "#c8c8c8"}}}}}
]
},
{
"width": 665, "height": 107,
"resolve": {"axis": {"x": "independent", "y": "independent"}},
"layer": [
{"data": {"name": "gridTime"},
 "mark": {"type": "rule", "strokeWidth": 1},
 "encoding": {
  "x": {"field": "t", "type": "quantitative", "scale": {"domain": [-17.11, 257.11], "nice": false, "zero": false}, "axis": null},
  "y": {"datum": 2058.6, "type": "quantitative", "scale": {"domain": [0, 2058.6], "nice": false, "zero": false}, "axis": null},
  "y2": {"datum": 0},
  "color": {"condition": {"test": "datum.t % 60 === 0", "value": "#b80000"}, "value": "#a80000"},
  "strokeDash": {"condition": {"test": "datum.t % 60 === 0", "value": [1, 0]}, "value": [3, 2]}}},
{"data": {"name": "gridVol"},
 "mark": {"type": "rule", "color": "#a80000", "strokeDash": [3, 2], "strokeWidth": 1},
 "encoding": {
  "x": {"datum": 0, "type": "quantitative", "scale": {"domain": [-17.11, 257.11], "nice": false, "zero": false}, "axis": null},
  "x2": {"datum": 240},
  "y": {"field": "v", "type": "quantitative", "scale": {"domain": [0, 2058.6], "nice": false, "zero": false}, "axis": null}}},
{"data": {"values": [{}]},
 "mark": {"type": "rule", "color": "#b80000", "strokeWidth": 1},
 "encoding": {
  "y": {"datum": 2058.6, "type": "quantitative", "scale": {"domain": [0, 2058.6], "nice": false, "zero": false}, "axis": null}}},
{"data": {"name": "vol"},
 "mark": {"type": "rule", "strokeWidth": 1.4},
 "encoding": {
  "x": {"field": "t", "type": "quantitative", "scale": {"domain": [-17.11, 257.11], "nice": false, "zero": false}, "axis": null},
  "y": {"field": "v", "type": "quantitative", "scale": {"domain": [0, 2058.6], "nice": false, "zero": false},
   "axis": {"orient": "left", "offset": -41.5, "values": [0, 410, 819, 1229, 1639], "labelExpr": "datum.value == 0 ? '万' : datum.value + '万'",
    "title": null, "ticks": false, "domain": false, "grid": false, "labelPadding": 1, "labelFlush": true, "labelOverlap": false, "labelFontSize": 9.5}},
  "y2": {"datum": 0},
  "color": {"field": "d", "type": "nominal", "scale": {"domain": ["up", "down"], "range": ["#d23232", "#32b432"]}, "legend": null}}},
{"data": {"values": [{}]},
 "mark": {"type": "rect", "color": "#ff2020"},
 "encoding": {
  "x": {"datum": -17.11, "type": "quantitative", "scale": {"domain": [-17.11, 257.11], "nice": false, "zero": false}, "axis": null},
  "x2": {"datum": -0.6},
  "y": {"datum": 2058.6, "type": "quantitative", "scale": {"domain": [0, 2058.6], "nice": false, "zero": false}, "axis": null},
  "y2": {"datum": 1835}}},
{"data": {"values": [{}]},
 "mark": {"type": "text", "text": "1967万", "align": "right", "baseline": "middle", "dx": -2, "fontSize": 9.5, "font": "Liberation Mono, Noto Sans CJK SC", "color": "#ffffff"},
 "encoding": {
  "x": {"datum": 0, "type": "quantitative", "scale": {"domain": [-17.11, 257.11], "nice": false, "zero": false}, "axis": null},
  "y": {"datum": 1946, "type": "quantitative", "scale": {"domain": [0, 2058.6], "nice": false, "zero": false}, "axis": null}}},
{"data": {"values": [{}]},
 "mark": {"type": "text", "text": "成交量 7.04亿", "align": "left", "baseline": "middle", "dx": 3, "fontSize": 10.5, "font": "Noto Sans CJK SC", "color": "#d2d2d2"},
 "encoding": {
  "x": {"datum": 0, "type": "quantitative", "scale": {"domain": [-17.11, 257.11], "nice": false, "zero": false}, "axis": null},
  "y": {"datum": 1946, "type": "quantitative", "scale": {"domain": [0, 2058.6], "nice": false, "zero": false}, "axis": null}}},
{"data": {"values": [{}]},
 "mark": {"type": "text", "text": "切换 ▾", "align": "left", "baseline": "middle", "fontSize": 10, "font": "Noto Sans CJK SC", "color": "#d2d2d2"},
 "encoding": {
  "x": {"datum": 244.4, "type": "quantitative", "scale": {"domain": [-17.11, 257.11], "nice": false, "zero": false}, "axis": null},
  "y": {"datum": 1885, "type": "quantitative", "scale": {"domain": [0, 2058.6], "nice": false, "zero": false}, "axis": null}}}
]
},
{
"width": 665, "height": 118,
"resolve": {"axis": {"x": "independent", "y": "independent"}},
"layer": [
{"data": {"name": "gridNet"},
 "mark": {"type": "rule", "color": "#a80000", "strokeDash": [3, 2], "strokeWidth": 1},
 "encoding": {
  "x": {"datum": 0, "type": "quantitative", "scale": {"domain": [-17.11, 257.11], "nice": false, "zero": false}, "axis": null},
  "x2": {"datum": 240},
  "y": {"field": "v", "type": "quantitative", "scale": {"domain": [-117.35, 66.4], "nice": false, "zero": false}, "axis": null}}},
{"data": {"name": "gridTime"},
 "mark": {"type": "rule", "strokeWidth": 1},
 "encoding": {
  "x": {"field": "t", "type": "quantitative", "scale": {"domain": [-17.11, 257.11], "nice": false, "zero": false}, "axis": null},
  "y": {"datum": 66.4, "type": "quantitative", "scale": {"domain": [-117.35, 66.4], "nice": false, "zero": false}, "axis": null},
  "y2": {"datum": -98.66},
  "color": {"condition": {"test": "datum.t % 60 === 0", "value": "#b80000"}, "value": "#a80000"},
  "strokeDash": {"condition": {"test": "datum.t % 60 === 0", "value": [1, 0]}, "value": [3, 2]}}},
{"data": {"name": "netbuy"},
 "mark": {"type": "area", "interpolate": "linear"},
 "encoding": {
  "x": {"field": "t", "type": "quantitative", "scale": {"domain": [-17.11, 257.11], "nice": false, "zero": false},
   "axis": {"orient": "bottom", "offset": -12, "values": [0, 60, 120, 180],
    "labelExpr": "datum.value == 0 ? '09:30' : datum.value == 60 ? '10:30' : datum.value == 120 ? '13:00' : '14:00'",
    "title": null, "ticks": false, "domain": false, "grid": false, "labelAlign": "left", "labelBaseline": "top", "labelPadding": 1, "labelFontSize": 9, "labelFlush": false, "labelOverlap": false}},
  "y": {"field": "v", "type": "quantitative", "scale": {"domain": [-117.35, 66.4], "nice": false, "zero": false},
   "axis": {"orient": "left", "offset": -41.5, "values": [66.4, 33.39, 0.38, -32.63, -65.65, -98.66],
    "labelExpr": "datum.value < -98 ? '万' : format(datum.value, '.2f') + '万'",
    "title": null, "ticks": false, "domain": false, "grid": false, "labelPadding": 1, "labelFlush": 13, "labelOverlap": false, "labelFontSize": 9}},
  "y2": {"datum": 0},
  "color": {"field": "d", "type": "nominal", "scale": {"domain": ["up", "down"], "range": ["#ff4040", "#00ff00"]}, "legend": null},
  "detail": {"field": "seg"}}},
{"data": {"values": [{}]},
 "mark": {"type": "rule", "color": "#bfbfbf", "strokeWidth": 1},
 "encoding": {
  "x": {"datum": 0, "type": "quantitative", "scale": {"domain": [-17.11, 257.11], "nice": false, "zero": false}, "axis": null},
  "x2": {"datum": 240},
  "y": {"datum": 0, "type": "quantitative", "scale": {"domain": [-117.35, 66.4], "nice": false, "zero": false}, "axis": null}}},
{"data": {"values": [{"v": 66.4}, {"v": -98.66}, {"v": -116.9}]},
 "mark": {"type": "rule", "color": "#b80000", "strokeWidth": 1},
 "encoding": {
  "y": {"field": "v", "type": "quantitative", "scale": {"domain": [-117.35, 66.4], "nice": false, "zero": false}, "axis": null}}},
{"data": {"values": [{}]},
 "mark": {"type": "rect", "color": "#c8c8c8"},
 "encoding": {
  "x": {"datum": 0.33, "type": "quantitative", "scale": {"domain": [-17.11, 257.11], "nice": false, "zero": false}, "axis": null},
  "x2": {"datum": 3.63},
  "y": {"datum": 57.06, "type": "quantitative", "scale": {"domain": [-117.35, 66.4], "nice": false, "zero": false}, "axis": null},
  "y2": {"datum": 46.16}}},
{"data": {"values": [{}]},
 "mark": {"type": "text", "text": "?", "align": "center", "baseline": "middle", "fontSize": 9, "fontWeight": "bold", "font": "DejaVu Sans", "color": "#000000"},
 "encoding": {
  "x": {"datum": 1.98, "type": "quantitative", "scale": {"domain": [-17.11, 257.11], "nice": false, "zero": false}, "axis": null},
  "y": {"datum": 51.6, "type": "quantitative", "scale": {"domain": [-117.35, 66.4], "nice": false, "zero": false}, "axis": null}}},
{"data": {"values": [{}]},
 "mark": {"type": "text", "text": "多空净买额", "align": "left", "baseline": "middle", "fontSize": 10, "font": "Noto Sans CJK SC", "color": "#d2d2d2"},
 "encoding": {
  "x": {"datum": 4.7, "type": "quantitative", "scale": {"domain": [-17.11, 257.11], "nice": false, "zero": false}, "axis": null},
  "y": {"datum": 51.6, "type": "quantitative", "scale": {"domain": [-117.35, 66.4], "nice": false, "zero": false}, "axis": null}}},
{"data": {"values": [{}]},
 "mark": {"type": "text", "text": "-911552.00万(占成交额比 0.85%)", "align": "left", "baseline": "middle", "fontSize": 10, "font": "Liberation Mono, Noto Sans CJK SC", "color": "#00c800"},
 "encoding": {
  "x": {"datum": 27.7, "type": "quantitative", "scale": {"domain": [-17.11, 257.11], "nice": false, "zero": false}, "axis": null},
  "y": {"datum": 51.6, "type": "quantitative", "scale": {"domain": [-117.35, 66.4], "nice": false, "zero": false}, "axis": null}}},
{"data": {"values": [{}]},
 "mark": {"type": "text", "text": "×", "align": "left", "baseline": "middle", "fontSize": 11, "font": "DejaVu Sans", "color": "#bfbfbf"},
 "encoding": {
  "x": {"datum": 235.3, "type": "quantitative", "scale": {"domain": [-17.11, 257.11], "nice": false, "zero": false}, "axis": null},
  "y": {"datum": 51.6, "type": "quantitative", "scale": {"domain": [-117.35, 66.4], "nice": false, "zero": false}, "axis": null}}},
{"data": {"values": [{}]},
 "mark": {"type": "text", "text": "切换 ▾", "align": "left", "baseline": "middle", "fontSize": 10, "font": "Noto Sans CJK SC", "color": "#d2d2d2"},
 "encoding": {
  "x": {"datum": 244.4, "type": "quantitative", "scale": {"domain": [-17.11, 257.11], "nice": false, "zero": false}, "axis": null},
  "y": {"datum": 51.6, "type": "quantitative", "scale": {"domain": [-117.35, 66.4], "nice": false, "zero": false}, "axis": null}}}
]
}
]
}
